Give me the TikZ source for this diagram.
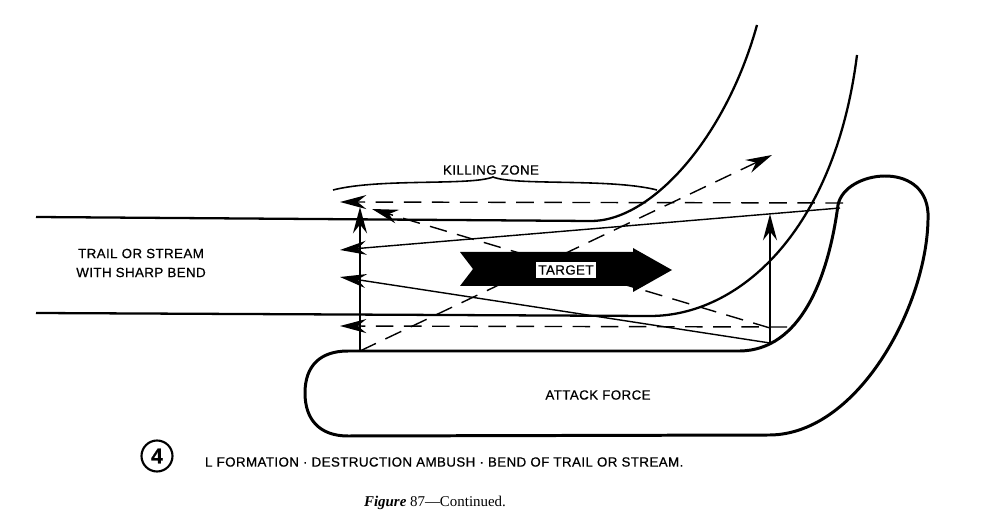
\documentclass[tikz,border=0pt]{standalone}
\usepackage{fontspec}
\setmainfont{Liberation Serif}
\newfontfamily\lblfont[FakeBold=0.6,LetterSpace=3]{Liberation Sans}
\usetikzlibrary{arrows.meta}

\begin{document}
\begin{tikzpicture}[x=0.02cm,y=-0.02cm,
    >={Stealth[length=15pt,width=8pt,inset=5pt]},
    trail/.style={line width=1.3pt},
    force/.style={line width=1.7pt},
    fire/.style={->,line width=0.8pt},
    sweep/.style={->,line width=0.8pt,dash pattern=on 10pt off 6pt},
    lbl/.style={font=\lblfont\fontsize{7.6}{10.8}\selectfont,inner sep=1pt}]
    \useasboundingbox (0,0) rectangle (1005,530);

    % trail or stream
    \draw[trail] (36,217) -- (590,221) .. controls (650,222) and (725,140) .. (757,25);
    \draw[trail] (36,313) -- (650,316) .. controls (740,316) and (835,230) .. (857,55);

    % attack force
    \draw[force] (348,351) -- (740,351) .. controls (800,350) and (828,280) .. (838,205)
        .. controls (845,170) and (925,160) .. (928,213)
        .. controls (930,300) and (860,434) .. (770,435) -- (348,436)
        .. controls (320,436) and (305,420) .. (305,393)
        .. controls (305,366) and (320,351) .. cycle;

    % ends of the fields of fire
    \coordinate (innerTop) at (843,203);
    \coordinate (fireTop) at (840,208);
    \coordinate (innerLow) at (787,327);
    \coordinate (cross) at (770,328);
    \coordinate (cornerR) at (770,343);
    \coordinate (cornerL) at (360,351);
    \coordinate (tipA) at (340,202);
    \coordinate (tipB) at (372,209);
    \coordinate (tipC) at (340,250);
    \coordinate (tipD) at (340,277);
    \coordinate (tipE) at (340,326);
    \coordinate (tipF) at (360,207);
    \coordinate (tipG) at (770,214);
    \coordinate (tipH) at (772,155);

    \draw[sweep] (innerTop) -- (tipA);
    \draw[sweep] (cross) -- (tipB);
    \draw[fire] (fireTop) -- (tipC);
    \draw[fire] (cornerR) -- (tipD);
    \draw[sweep] (innerLow) -- (tipE);
    \draw[fire] (cornerL) -- (tipF);
    \draw[fire] (cornerR) -- (tipG);
    \draw[sweep] (cornerL) -- (tipH);

    % killing zone
    \draw[line width=0.9pt] (333,190) .. controls (380,178) and (470,186) .. (493,177)
        .. controls (515,186) and (610,178) .. (657,190);
    \node[lbl] (zone) at (491,170) {KILLING ZONE};

    % target
    \fill (460,252) -- (633,252) -- (633,248) -- (672,270) -- (633,292) -- (633,286)
        -- (460,286) -- (473,269) -- cycle;
    \node[lbl,fill=white,draw,line width=0.8pt,inner sep=2pt] (target) at (566,270) {TARGET};

    \node[lbl,align=center] (trailtxt) at (141,263) {TRAIL OR STREAM\\WITH SHARP BEND};
    \node[lbl] (force) at (598,395) {ATTACK FORCE};

    % caption
    \node[circle,draw,line width=1.2pt,minimum size=0.62cm,inner sep=0pt,
        font=\lblfont\fontsize{12}{12}\selectfont\bfseries] (num) at (157,456) {4};
    \node[lbl,anchor=west] (caption) at (203,462) {L FORMATION · DESTRUCTION AMBUSH · BEND OF TRAIL OR STREAM.};
    \node[font=\fontsize{8.5}{10}\selectfont] (figcap) at (435,503) {\textbf{\textit{Figure}} 87---Continued.};
\end{tikzpicture}
\end{document}
